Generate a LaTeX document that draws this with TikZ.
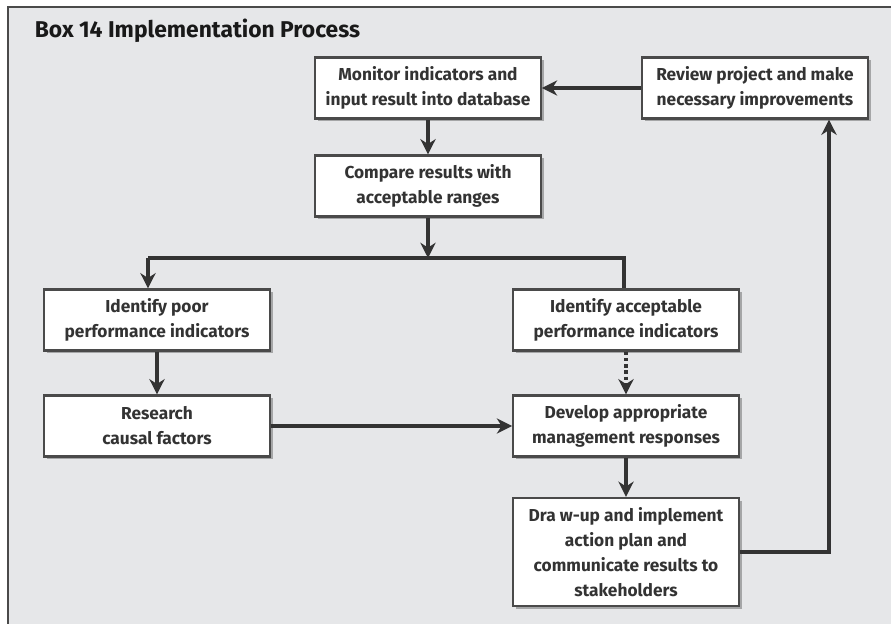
\documentclass[tikz,border=0pt]{standalone}
\usepackage{fontspec}
\setmainfont{Fira Sans}
\usetikzlibrary{arrows.meta,shadows}

\definecolor{panelgray}{HTML}{E6E7E9}
\definecolor{framegray}{HTML}{4A4A4A}
\definecolor{inkgray}{HTML}{333333}

\tikzset{
	stepbox/.style={draw=framegray,line width=1.7pt,fill=white,align=center,
		minimum width=163pt,minimum height=44pt,inner sep=1pt,
		font=\bfseries\fontsize{12.5}{18}\selectfont,text=inkgray,
		drop shadow={shadow xshift=2pt,shadow yshift=-2pt,opacity=0.5,fill=black!60}},
	link/.style={draw=inkgray,line width=2.5pt},
	arrowlink/.style={link,-{Stealth[length=11pt,width=11pt,inset=3.5pt]}},
}

\begin{document}
\begin{tikzpicture}[x=0.254mm,y=-0.254mm]
		\useasboundingbox (0,0) rectangle (891,624);
		\fill [white] (0,0) rectangle (891,624);
		\fill [panelgray] (8,7) rectangle (891,624);
		\draw [framegray] [line width=2pt] (8,624) -- (8,7) -- (891,7);
		
		\node [anchor=west,font=\bfseries\fontsize{16.5}{18}\selectfont,text=black!90] (title) at (30,31) {Box 14 Implementation Process};
		
		% boxes
		\node [stepbox] (monitor) at (428,88) {Monitor indicators and\\input result into database};
		\node [stepbox] (review) at (755,88) {Review  project and make\\necessary improvements};
		\node [stepbox] (compare) at (428,186) {Compare results with\\acceptable ranges};
		\node [stepbox] (poor) at (157,320) {Identify poor\\performance indicators};
		\node [stepbox] (accept) at (626,320) {Identify acceptable\\performance indicators};
		\node [stepbox] (research) at (157,426) {Research\\causal factors};
		\node [stepbox] (develop) at (626,426) {Develop appropriate\\management responses};
		\node [stepbox,minimum height=78pt] (drawup) at (626,552) {Dra w-up and implement\\action plan and\\communicate results to\\stakeholders};
		
		% branch points
		\coordinate (split) at (428,258);
		\coordinate (splitL) at (148,258);
		\coordinate (splitR) at (624,258);
		\coordinate (back) at (829,552);
		
		% connectors
		\draw [arrowlink] (review.west) -- (monitor.east);
		\draw [arrowlink] (monitor) -- (compare);
		\draw [arrowlink] (compare.south) -- (split);
		\draw [link] (splitL) -- (splitR) -- (splitR |- accept.north);
		\draw [arrowlink] (splitL) -- (splitL |- poor.north);
		\draw [arrowlink] (poor) -- (research);
		\draw [arrowlink,dotted] (accept) -- (develop);
		\draw [arrowlink] (research) -- (develop);
		\draw [arrowlink] (develop) -- (drawup);
		\draw [arrowlink] (drawup.east) -- (back) -- (back |- review.south);
		
	\end{tikzpicture}
\end{document}
